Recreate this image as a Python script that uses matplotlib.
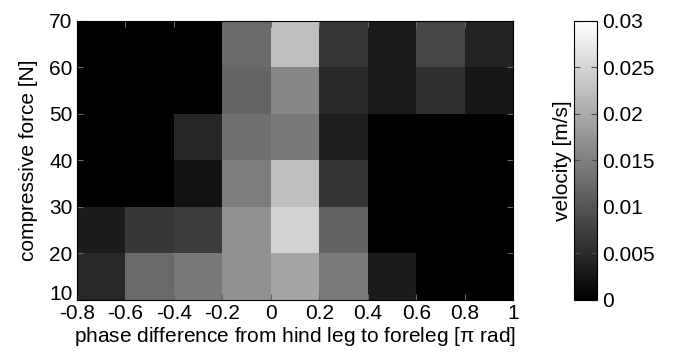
import numpy as np
import matplotlib
matplotlib.use('Agg')
from matplotlib import pyplot as plt

plt.rcParams['font.family'] = ['Liberation Sans', 'DejaVu Sans']

# bin edges
phase_edges = [-0.8, -0.6, -0.4, -0.2, 0, 0.2, 0.4, 0.6, 0.8, 1.0]
force_edges = [10, 20, 30, 40, 50, 60, 70]

# velocity [m/s], rows from force 10-20 up to 60-70
row_10_20 = [0.0047, 0.0124, 0.0141, 0.0171, 0.0194, 0.0144, 0.0033, 0.0, 0.0]
row_20_30 = [0.0033, 0.0065, 0.0071, 0.0171, 0.0247, 0.0115, 0.0, 0.0, 0.0]
row_30_40 = [0.0, 0.0, 0.0021, 0.0147, 0.0224, 0.0061, 0.0, 0.0, 0.0]
row_40_50 = [0.0, 0.0, 0.0045, 0.0132, 0.0141, 0.0038, 0.0, 0.0, 0.0]
row_50_60 = [0.0, 0.0, 0.0, 0.0118, 0.0159, 0.0049, 0.0031, 0.0056, 0.0028]
row_60_70 = [0.0, 0.0, 0.0, 0.0125, 0.0224, 0.0064, 0.0031, 0.0081, 0.004]

velocity = np.array([row_10_20, row_20_30, row_30_40, row_40_50, row_50_60, row_60_70])

fs = 15

fig = plt.figure(figsize=(6.79, 3.55), dpi=100)
ax = fig.add_axes([0.113, 0.155, 0.643, 0.786])
mesh = ax.pcolormesh(phase_edges, force_edges, velocity, cmap='gray', vmin=0, vmax=0.03)
ax.set_xlim(-0.8, 1)
ax.set_ylim(10, 70)
ax.set_xticks([-0.8, -0.6, -0.4, -0.2, 0, 0.2, 0.4, 0.6, 0.8, 1])
ax.set_xticklabels(['-0.8', '-0.6', '-0.4', '-0.2', '0', '0.2', '0.4', '0.6', '0.8', '1'])
ax.set_yticks([10, 20, 30, 40, 50, 60, 70])
ax.tick_params(direction='in', top=True, right=True, labelsize=fs, length=4, color='0.4')
ax.tick_params(axis='x', pad=3)
ax.tick_params(axis='y', pad=3)
# nudge the bottom y label up a little so it clears -0.8
ax.get_yticklabels()[0].set_verticalalignment('baseline')
ax.set_xlabel(r'phase difference from hind leg to foreleg [$\mathregular{\pi}$ rad]', fontsize=fs, labelpad=1)
ax.set_ylabel('compressive force [N]', fontsize=fs, labelpad=8)

cax = fig.add_axes([0.845, 0.155, 0.034, 0.786])
cb = fig.colorbar(mesh, cax=cax)
cb.set_ticks([0, 0.005, 0.01, 0.015, 0.02, 0.025, 0.03])
cb.set_ticklabels(['0', '0.005', '0.01', '0.015', '0.02', '0.025', '0.03'])
cax.tick_params(direction='in', left=True, right=True, labelsize=fs, length=4, pad=4, color='0.3')
cax.yaxis.set_label_position('left')
cb.set_label('velocity [m/s]', fontsize=fs, labelpad=1)
cb.outline.set_linewidth(0.8)

fig.savefig('out.png', dpi=100)
